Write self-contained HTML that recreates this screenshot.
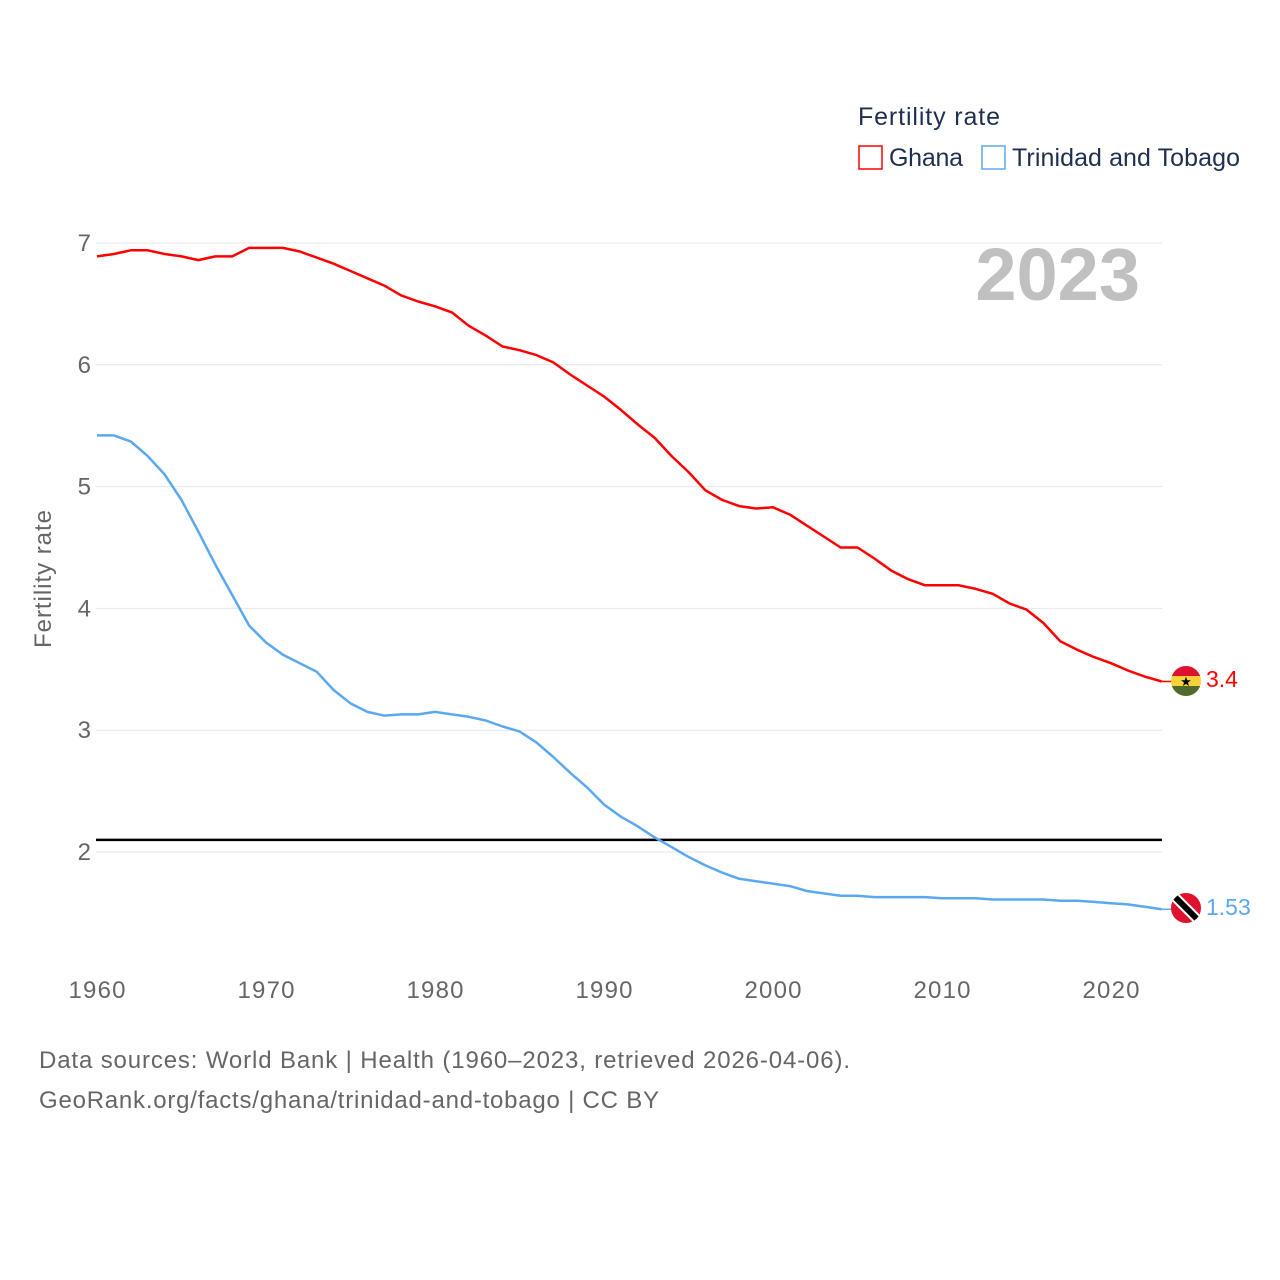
<!DOCTYPE html>
<html><head><meta charset="utf-8">
<style>
html,body{margin:0;padding:0;background:#fff;}
svg{display:block;font-family:"Liberation Sans",sans-serif;}
</style></head>
<body>
<svg id="chart" width="1280" height="1280" viewBox="0 0 1280 1280">
  <text x="858" y="125" font-size="25" fill="#1f2f4f" textLength="142">Fertility rate</text>
  <g>
    <rect x="859" y="146" width="23" height="23" fill="none" stroke="#ff0000" stroke-width="1.5"/>
    <text x="889" y="166" font-size="25" fill="#1f2f4f" textLength="74">Ghana</text>
  </g>
  <g>
    <rect x="982" y="146" width="23" height="23" fill="none" stroke="#5aa9f0" stroke-width="1.5"/>
    <text x="1012" y="166" font-size="25" fill="#1f2f4f" textLength="228">Trinidad and Tobago</text>
  </g>
  <text x="1140" y="300" font-size="74" font-weight="bold" fill="#c0c0c0" text-anchor="end">2023</text>
  <g id="grid"></g>
  <g id="yticks"></g>
  <g id="xticks"></g>
  <text transform="translate(51,579) rotate(-90)" font-size="24" fill="#666" text-anchor="middle" textLength="138">Fertility rate</text>
  <g id="series"></g>
  <defs>
    <clipPath id="cg"><circle cx="1186" cy="681" r="15"/></clipPath>
    <clipPath id="ct"><circle cx="1186" cy="908" r="15"/></clipPath>
  </defs>
  <g id="flag-gh" clip-path="url(#cg)">
    <rect x="1171" y="666" width="30" height="10" fill="#e0102f"/>
    <rect x="1171" y="676" width="30" height="10" fill="#f8d23a"/>
    <rect x="1171" y="686" width="30" height="10" fill="#4f6a2b"/>
    <text x="1186" y="686" font-size="13" text-anchor="middle" fill="#000">★</text>
  </g>
  <g id="flag-tt" clip-path="url(#ct)">
    <rect x="1171" y="893" width="30" height="30" fill="#e0102f"/>
    <line x1="1170" y1="892" x2="1202" y2="924" stroke="#fff" stroke-width="10"/>
    <line x1="1170" y1="892" x2="1202" y2="924" stroke="#000" stroke-width="6"/>
  </g>
  <text x="1206" y="687" font-size="23" fill="#ff0000">3.4</text>
  <text x="1206" y="915" font-size="23" fill="#5aa9f0">1.53</text>
  <text x="39" y="1068" font-size="24" fill="#666" textLength="811">Data sources: World Bank | Health (1960–2023, retrieved 2026-04-06).</text>
  <text x="39" y="1108" font-size="24" fill="#666" textLength="620">GeoRank.org/facts/ghana/trinidad-and-tobago | CC BY</text>
</svg>
<script>
const years = [];
for (let y = 1960; y <= 2023; y++) years.push(y);
const ghana = [6.89,6.91,6.94,6.94,6.91,6.89,6.86,6.89,6.89,6.96,6.96,6.96,6.93,6.88,6.83,6.77,6.71,6.65,6.57,6.52,6.48,6.43,6.32,6.24,6.15,6.12,6.08,6.02,5.92,5.83,5.74,5.63,5.51,5.40,5.25,5.12,4.97,4.89,4.84,4.82,4.83,4.77,4.68,4.59,4.50,4.50,4.41,4.31,4.24,4.19,4.19,4.19,4.16,4.12,4.04,3.99,3.88,3.73,3.66,3.60,3.55,3.49,3.44,3.40];
const trinidad = [5.42,5.42,5.37,5.25,5.10,4.89,4.63,4.36,4.11,3.86,3.72,3.62,3.55,3.48,3.33,3.22,3.15,3.12,3.13,3.13,3.15,3.13,3.11,3.08,3.03,2.99,2.90,2.78,2.65,2.53,2.39,2.29,2.21,2.12,2.04,1.96,1.89,1.83,1.78,1.76,1.74,1.72,1.68,1.66,1.64,1.64,1.63,1.63,1.63,1.63,1.62,1.62,1.62,1.61,1.61,1.61,1.61,1.60,1.60,1.59,1.58,1.57,1.55,1.53];
const yTicks = [2,3,4,5,6,7];
const xTicks = [1960,1970,1980,1990,2000,2010,2020];
const replacement = 2.1;

const NS = "http://www.w3.org/2000/svg";
const xs = y => 97 + (y - 1960) * (1111 - 97) / 60;
const ys = v => 852 - (v - 2) * (852 - 243) / 5;
function mk(tag, attrs, parent) {
  const e = document.createElementNS(NS, tag);
  for (const k in attrs) e.setAttribute(k, attrs[k]);
  parent.appendChild(e);
  return e;
}
const grid = document.getElementById('grid');
const yt = document.getElementById('yticks');
const xt = document.getElementById('xticks');
yTicks.forEach(v => {
  const l = mk('line', {x1: 96, x2: 1162, y1: ys(v), y2: ys(v), stroke: '#e6e6e6', 'stroke-width': 1}, grid);
  
  
  const t = mk('text', {x: 91, y: ys(v) + 8, 'font-size': 24, fill: '#666', 'text-anchor': 'end'}, yt);
  t.textContent = v;
  
  
});
xTicks.forEach(v => {
  const t = mk('text', {x: xs(v), y: 998, 'font-size': 24, fill: '#666', 'text-anchor': 'middle', textLength: 57}, xt);
  t.textContent = v;
  
  
});
const series = document.getElementById('series');
const rl = mk('line', {x1: 96, x2: 1162, y1: ys(replacement), y2: ys(replacement), stroke: '#000', 'stroke-width': 2.5}, series);


function path(vals, color, name) {
  const d = vals.map((v, i) => (i ? 'L' : 'M') + xs(years[i]).toFixed(1) + ',' + ys(v).toFixed(1)).join('');
  const p = mk('path', {d: d, fill: 'none', stroke: color, 'stroke-width': 2.5, 'stroke-linejoin': 'round'}, series);
  
  
  mk('line', {x1: xs(2023), x2: 1172, y1: ys(vals[vals.length-1]), y2: ys(vals[vals.length-1]), stroke: color, 'stroke-width': 1.5}, series);
}
path(trinidad, '#5aa9f0', 'trinidad-line');
path(ghana, '#ff0000', 'ghana-line');
</script>
</body></html>
